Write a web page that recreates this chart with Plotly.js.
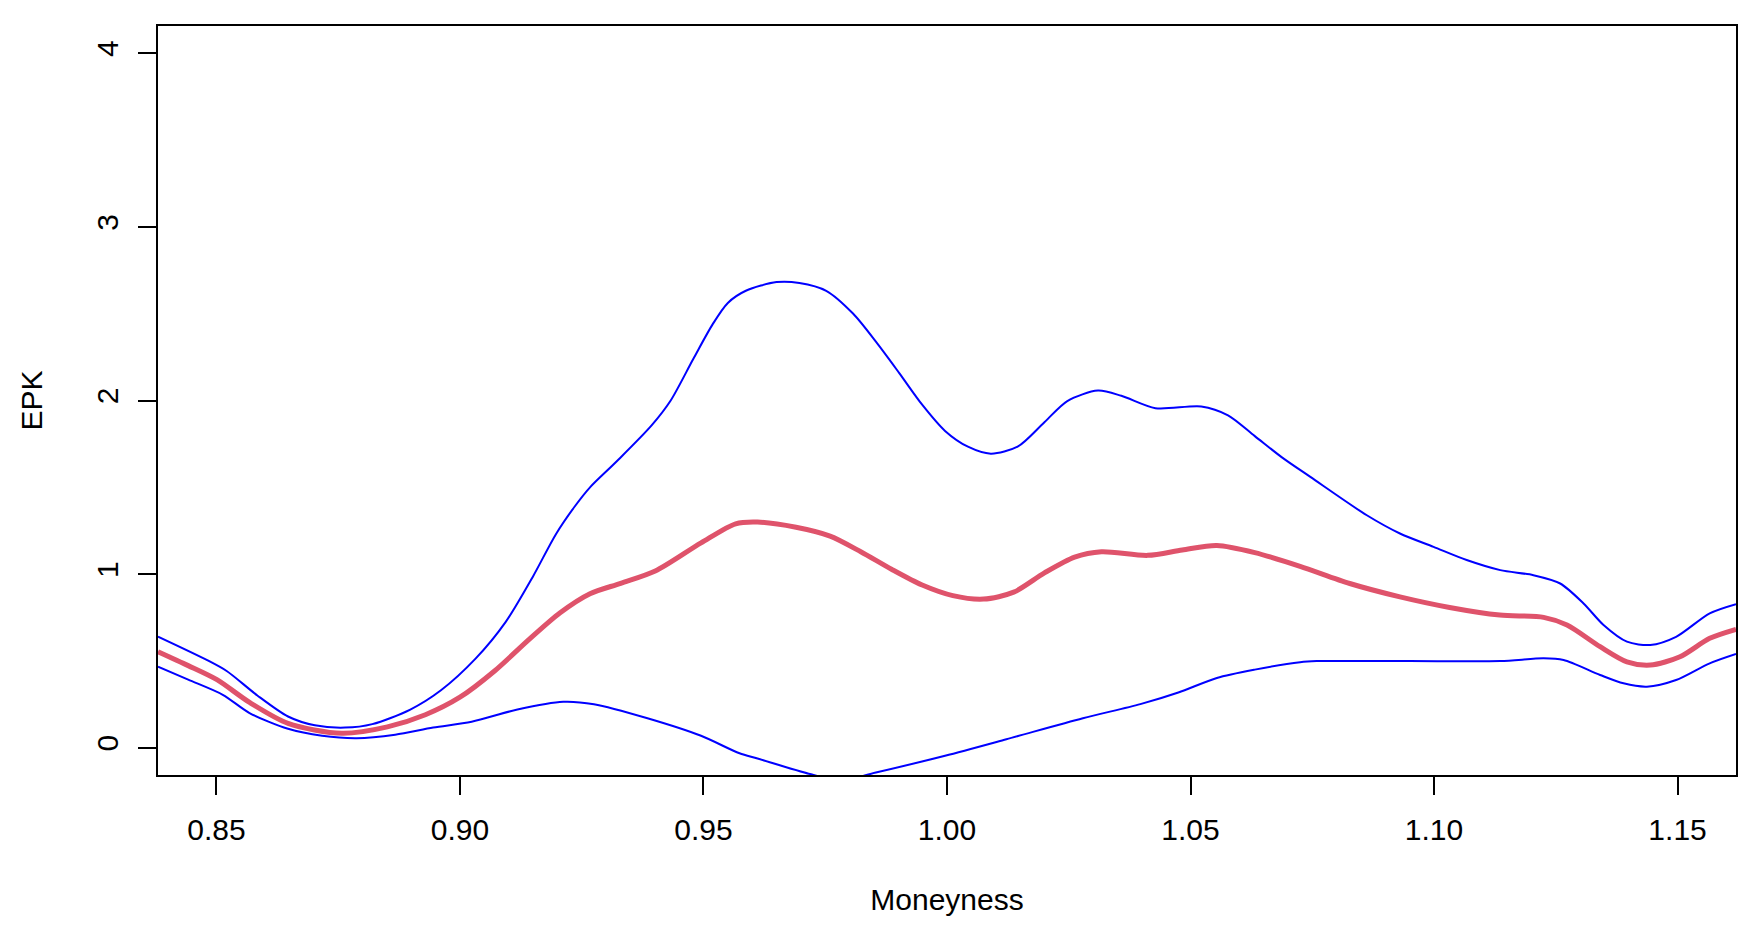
<!DOCTYPE html>
<html>
<head>
<meta charset="utf-8">
<script src="https://cdn.plot.ly/plotly-3.0.1.min.js"></script>
<style>
  html, body { margin: 0; padding: 0; background: #ffffff; }
  #chart { width: 1758px; height: 935px; }
</style>
</head>
<body>
<div id="chart"></div>
<script>
// Upper confidence band
const moneynessUpper = [0.838, 0.8482, 0.8521, 0.8584, 0.8647, 0.8702, 0.8764, 0.882, 0.8898, 0.8961, 0.9032, 0.9094, 0.915, 0.9197, 0.9236, 0.9267, 0.9322, 0.9393, 0.9432, 0.9479, 0.9519, 0.955, 0.9587, 0.965, 0.9697, 0.9752, 0.9807, 0.9854, 0.9902, 0.9949, 0.9996, 1.0043, 1.009, 1.0145, 1.02, 1.0247, 1.031, 1.0358, 1.0428, 1.0522, 1.0577, 1.0632, 1.0687, 1.0746, 1.0862, 1.093, 1.0999, 1.1067, 1.1136, 1.1204, 1.1259, 1.1307, 1.1348, 1.1396, 1.1444, 1.1497, 1.1566, 1.162];
const epkUpper = [0.640, 0.503, 0.442, 0.301, 0.180, 0.129, 0.116, 0.136, 0.220, 0.331, 0.513, 0.725, 0.987, 1.230, 1.391, 1.500, 1.650, 1.855, 1.997, 2.239, 2.440, 2.562, 2.632, 2.682, 2.677, 2.632, 2.501, 2.339, 2.158, 1.976, 1.825, 1.734, 1.694, 1.734, 1.875, 1.997, 2.057, 2.027, 1.956, 1.966, 1.915, 1.795, 1.674, 1.560, 1.339, 1.234, 1.157, 1.081, 1.023, 0.994, 0.946, 0.831, 0.707, 0.611, 0.592, 0.639, 0.774, 0.827];

// EPK estimate
const moneynessEst = [0.838, 0.8442, 0.8501, 0.8568, 0.8647, 0.8757, 0.8851, 0.8929, 0.9, 0.9071, 0.9142, 0.9205, 0.9267, 0.933, 0.9401, 0.9495, 0.9566, 0.9611, 0.969, 0.976, 0.9823, 0.9886, 0.9949, 1.0012, 1.0075, 1.0137, 1.02, 1.0262, 1.0317, 1.0412, 1.0483, 1.0554, 1.0632, 1.0725, 1.0827, 1.093, 1.1032, 1.1135, 1.1225, 1.1273, 1.1341, 1.1396, 1.1444, 1.1505, 1.1566, 1.162];
const epkEst = [0.553, 0.473, 0.392, 0.261, 0.140, 0.083, 0.120, 0.190, 0.291, 0.442, 0.624, 0.776, 0.887, 0.947, 1.018, 1.180, 1.290, 1.300, 1.270, 1.219, 1.129, 1.028, 0.937, 0.876, 0.856, 0.896, 1.007, 1.098, 1.129, 1.108, 1.139, 1.165, 1.124, 1.045, 0.946, 0.869, 0.808, 0.764, 0.751, 0.707, 0.582, 0.495, 0.476, 0.524, 0.630, 0.682];

// Lower confidence band
const moneynessLower = [0.838, 0.8442, 0.8513, 0.8568, 0.8647, 0.8717, 0.8788, 0.8867, 0.8945, 0.9024, 0.9118, 0.9212, 0.9275, 0.9385, 0.9495, 0.9574, 0.9611, 0.9721, 0.978, 0.9854, 0.9996, 1.0122, 1.0279, 1.0397, 1.0475, 1.0554, 1.0632, 1.0725, 1.0759, 1.095, 1.1136, 1.1225, 1.1266, 1.1341, 1.1389, 1.1437, 1.1497, 1.1566, 1.162];
const epkLower = [0.467, 0.392, 0.305, 0.200, 0.109, 0.069, 0.055, 0.075, 0.116, 0.150, 0.220, 0.265, 0.251, 0.170, 0.069, -0.032, -0.062, -0.153, -0.190, -0.143, -0.046, 0.049, 0.170, 0.251, 0.318, 0.402, 0.450, 0.493, 0.499, 0.499, 0.499, 0.515, 0.505, 0.419, 0.371, 0.352, 0.390, 0.486, 0.540];

const xTicks = [0.85, 0.90, 0.95, 1.00, 1.05, 1.10, 1.15];
const yTicks = [0, 1, 2, 3, 4];

const FONT = 'Liberation Sans, Arial, Helvetica, sans-serif';

const traces = [
  { x: moneynessUpper, y: epkUpper, mode: 'lines', line: { color: '#0000FF', width: 2, shape: 'spline', smoothing: 0.8 }, hoverinfo: 'skip' },
  { x: moneynessLower, y: epkLower, mode: 'lines', line: { color: '#0000FF', width: 2, shape: 'spline', smoothing: 0.8 }, hoverinfo: 'skip' },
  { x: moneynessEst, y: epkEst, mode: 'lines', line: { color: '#DF536B', width: 5, shape: 'spline', smoothing: 0.8 }, hoverinfo: 'skip' }
];

const layout = {
  width: 1758, height: 935,
  paper_bgcolor: '#ffffff', plot_bgcolor: '#ffffff',
  showlegend: false,
  margin: { l: 158, r: 22, t: 26, b: 160, pad: 0 },
  font: { family: FONT, size: 30, color: '#000000' },
  xaxis: {
    range: [0.838, 1.162],
    tickvals: xTicks, ticktext: xTicks.map(v => v.toFixed(2)),
    ticks: 'outside', ticklen: 18, tickwidth: 2, tickcolor: '#000',
    ticklabelstandoff: 9,
    showline: true, linecolor: '#000', linewidth: 2, mirror: true,
    showgrid: false, zeroline: false,
    tickfont: { family: FONT, size: 30, color: '#000' },
    title: { text: 'Moneyness', font: { family: FONT, size: 30, color: '#000' }, standoff: 44 },
    automargin: false
  },
  yaxis: {
    range: [-0.157, 4.157],
    tickvals: yTicks, ticktext: yTicks.map(String),
    tickangle: -90,
    ticks: 'outside', ticklen: 18, tickwidth: 2, tickcolor: '#000',
    ticklabelstandoff: 8,
    showline: true, linecolor: '#000', linewidth: 2, mirror: true,
    showgrid: false, zeroline: false,
    tickfont: { family: FONT, size: 30, color: '#000' },
    title: { text: 'EPK', font: { family: FONT, size: 30, color: '#000' }, standoff: 40 },
    automargin: false
  }
};

Plotly.newPlot('chart', traces, layout, { staticPlot: true, displayModeBar: false });
</script>
</body>
</html>
